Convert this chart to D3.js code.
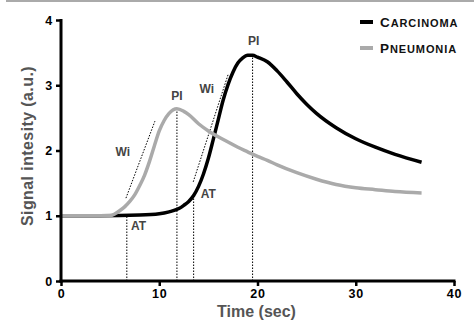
<!DOCTYPE html>
<html>
<head>
<meta charset="utf-8">
<script src="https://cdn.jsdelivr.net/npm/d3@7"></script>
<style>
    body { margin: 0; background: #ffffff; }
    svg { display: block; font-family: "Liberation Sans", Arial, sans-serif; }
    .tick-label { font-size: 12.5px; font-weight: bold; fill: #000; letter-spacing: 0.8px; }
    .axis-title { font-size: 16px; font-weight: bold; fill: #555; }
    .note { font-size: 12px; font-weight: bold; fill: #444; }
    .legend-text { font-weight: bold; fill: #111; }
</style>
</head>
<body>
<div id="chart"></div>
<script>
// Time points (sec) and signal intensity
const timeCarcinoma = [0, 4, 8, 10, 11, 12, 12.5, 13, 13.5, 14, 14.5, 15, 15.5, 16, 16.5, 17, 17.5, 18, 18.5, 19, 19.5, 20, 21, 22, 23, 24, 25, 26, 28, 30, 32, 34, 36.7];
const carcinoma = [1, 1, 1.01, 1.03, 1.06, 1.11, 1.16, 1.22, 1.31, 1.45, 1.64, 1.88, 2.17, 2.47, 2.77, 3.01, 3.2, 3.34, 3.42, 3.46, 3.46, 3.43, 3.36, 3.22, 3.05, 2.87, 2.71, 2.57, 2.35, 2.18, 2.05, 1.94, 1.82];

const timePneumonia = [0, 4, 5, 5.5, 6, 6.5, 7, 7.5, 8, 8.5, 9, 9.5, 10, 10.5, 11, 11.8, 12.5, 13, 14, 15, 16, 17, 18, 19, 20, 21, 22, 24, 26, 28, 30, 32, 34, 36.7];
const pneumonia = [1, 1, 1, 1.03, 1.08, 1.14, 1.22, 1.32, 1.46, 1.62, 1.83, 2.07, 2.3, 2.46, 2.57, 2.64, 2.6, 2.55, 2.41, 2.3, 2.21, 2.13, 2.05, 1.98, 1.91, 1.85, 1.78, 1.66, 1.56, 1.48, 1.43, 1.4, 1.37, 1.35];

const seriesNames = ["Carcinoma", "Pneumonia"];
const xTicks = [0, 10, 20, 30, 40];
const yTicks = [0, 1, 2, 3, 4];

// Dotted helper lines: [x1, y1, x2, y2] in data units
const dropLines = [[6.7, 0, 6.7, 1.0], [11.8, 0, 11.8, 2.62], [13.5, 0, 13.5, 1.31], [19.5, 0, 19.5, 3.45]];
const slopeLines = [[6.61, 1.27, 9.56, 2.45], [13.46, 1.52, 17.02, 3.17]];

// Annotations: text, x, y (data units)
const notes = [
    ["AT", 7.9, 0.83], ["AT", 15.0, 1.32],
    ["Wi", 6.3, 1.96], ["Wi", 14.85, 2.93],
    ["PI", 11.8, 2.82], ["PI", 19.6, 3.66]
];

const totalW = 474, totalH = 325;
const margin = { top: 20, right: 20, bottom: 44, left: 61 };
const width = 393;
const height = 261;

const x = d3.scaleLinear().domain([0, 40]).range([0, width]);
const y = d3.scaleLinear().domain([0, 4]).range([height, 0]);

const root = d3.select("#chart")
    .append("svg")
    .attr("width", totalW)
    .attr("height", totalH);

// thin frame remnant at the top of the figure
root.append("line")
    .attr("x1", 6).attr("y1", 1)
    .attr("x2", totalW).attr("y2", 1)
    .attr("stroke", "#aaa")
    .attr("stroke-width", 2);

const svg = root.append("g")
    .attr("transform", `translate(${margin.left}, ${margin.top})`);

// Dotted lines first so the curves sit on top
svg.selectAll("line.drop")
    .data(dropLines.concat(slopeLines))
    .enter()
    .append("line")
    .attr("x1", d => x(d[0]))
    .attr("y1", d => y(d[1]))
    .attr("x2", d => x(d[2]))
    .attr("y2", d => y(d[3]))
    .attr("stroke", "#000")
    .attr("stroke-width", 1)
    .attr("stroke-dasharray", "1.5,1.5");

// Curves
const line = d3.line()
    .x(d => x(d[0]))
    .y(d => y(d[1]))
    .curve(d3.curveMonotoneX);

svg.append("path")
    .datum(timeCarcinoma.map((t, i) => [t, carcinoma[i]]))
    .attr("d", line)
    .attr("fill", "none")
    .attr("stroke", "#000")
    .attr("stroke-width", 3.5);

svg.append("path")
    .datum(timePneumonia.map((t, i) => [t, pneumonia[i]]))
    .attr("d", line)
    .attr("fill", "none")
    .attr("stroke", "#aaa")
    .attr("stroke-width", 3.5);

// Axes
const xAxis = svg.append("g")
    .attr("transform", `translate(0, ${height})`)
    .call(d3.axisBottom(x).tickValues(xTicks).tickFormat(d3.format("d")).tickSize(5).tickPadding(3));

const yAxis = svg.append("g")
    .call(d3.axisLeft(y).tickValues(yTicks).tickFormat(d3.format("d")).tickSize(5).tickPadding(3));

[xAxis, yAxis].forEach(ax => {
    ax.select(".domain").attr("stroke", "#000").attr("stroke-width", 3);
    ax.selectAll(".tick line").attr("stroke", "#000").attr("stroke-width", 2.5);
    ax.selectAll(".tick text").attr("class", "tick-label");
});
xAxis.select(".domain").attr("d", `M-1.5,0H${width + 1.5}`);
yAxis.select(".domain").attr("d", `M0,${height + 1.5}V-1`);

// Axis titles
svg.append("text")
    .attr("class", "axis-title")
    .attr("x", width / 2 - 1)
    .attr("y", height + 36)
    .attr("text-anchor", "middle")
    .text("Time (sec)");

svg.append("text")
    .attr("class", "axis-title")
    .attr("transform", "rotate(-90)")
    .attr("x", -126)
    .attr("y", -28)
    .attr("text-anchor", "middle")
    .attr("letter-spacing", 0.4)
    .text("Signal intesity (a.u.)");

// Annotations
svg.selectAll("text.note")
    .data(notes)
    .enter()
    .append("text")
    .attr("class", "note")
    .attr("x", d => x(d[1]))
    .attr("y", d => y(d[2]))
    .attr("text-anchor", "middle")
    .attr("dominant-baseline", "middle")
    .text(d => d[0]);

// Legend (small caps done by hand)
const legendColors = ["#000", "#aaa"];
const legend = root.append("g")
    .attr("transform", "translate(360, 22)");

seriesNames.forEach((name, i) => {
    const row = legend.append("g").attr("transform", `translate(0, ${i * 26})`);
    row.append("line")
        .attr("x1", 0).attr("x2", 13)
        .attr("stroke", legendColors[i])
        .attr("stroke-width", 4);
    const t = row.append("text")
        .attr("class", "legend-text")
        .attr("x", 20)
        .attr("y", 5)
        .attr("letter-spacing", 0.9);
    t.append("tspan").attr("font-size", 13.5).text(name[0].toUpperCase());
    t.append("tspan").attr("font-size", 11).text(name.slice(1).toUpperCase());
});
</script>
</body>
</html>
